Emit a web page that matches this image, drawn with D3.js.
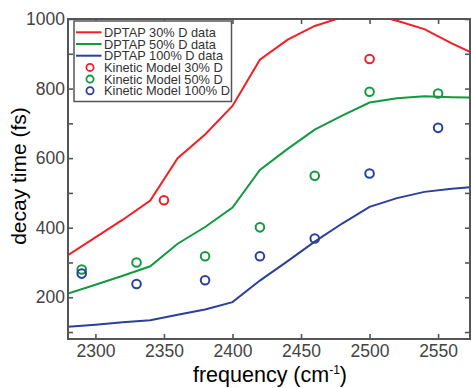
<!DOCTYPE html>
<html><head><meta charset="utf-8">
<script src="https://cdn.jsdelivr.net/npm/d3@7"></script>
<style>body{margin:0;background:#fff}svg{display:block}text{font-family:"Liberation Sans",Arial,sans-serif}</style>
</head><body><svg id="c" width="471" height="388"></svg>
<script>
// data
const lineFreq = [2280,2300,2320,2340,2360,2380,2400,2420,2440,2460,2480,2500,2520,2540,2560,2575];
const red30   = [321,372,423,478,600,668,750,883,940,980,1005,1015,995,971,930,902];
const green50 = [211,236,262,289,354,402,458,566,626,682,722,760,772,778,775,774];
const blue100 = [115,121,128,134,150,165,186,248,303,360,412,460,485,503,512,517];
const modelFreq30 = [2350,2500];
const model30 = [479,885];
const modelFreq50 = [2290,2330,2380,2420,2460,2500,2550];
const model50 = [280,300,318,401,549,791,786];
const modelFreq100 = [2290,2330,2380,2420,2460,2500,2550];
const model100 = [268,238,249,318,369,556,687];
const xTicks = [2300,2350,2400,2450,2500,2550];
const yTicks = [100,200,300,400,500,600,700,800,900,1000];
const yLabels = [200,400,600,800,1000];
const legendLabels = ["DPTAP 30% D data","DPTAP 50% D data","DPTAP 100% D data","Kinetic Model 30% D","Kinetic Model 50% D","Kinetic Model 100% D"];

const RED="#f41e26", GREEN="#119a3f", BLUE="#2b3f9c", AX="#555";
const L=68,R=470,T=19,B=339;
const svg=d3.select("#c");
const x=d3.scaleLinear().domain([2280,2574]).range([L,471]);
const y=d3.scaleLinear().domain([80,1000]).range([B,T]);

svg.append("clipPath").attr("id","clip").append("rect").attr("x",L).attr("y",T).attr("width",R-L).attr("height",B-T);
const g=svg.append("g").attr("clip-path","url(#clip)");
const line=d3.line().x(d=>x(d[0])).y(d=>y(d[1]));
[[red30,RED],[green50,GREEN],[blue100,BLUE]].forEach(([vals,col])=>{
  g.append("path").datum(lineFreq.map((f,i)=>[f,vals[i]])).attr("d",line)
   .attr("fill","none").attr("stroke",col).attr("stroke-width",2);
});
[[modelFreq30,model30,RED],[modelFreq50,model50,GREEN],[modelFreq100,model100,BLUE]].forEach(([fs,vals,col])=>{
  g.selectAll(null).data(fs.map((f,i)=>[f,vals[i]])).enter().append("circle")
   .attr("cx",d=>x(d[0])).attr("cy",d=>y(d[1])).attr("r",4.3)
   .attr("fill","none").attr("stroke",col).attr("stroke-width",2);
});

// axes
const axB=d3.axisBottom(x).tickValues(xTicks).tickSize(-5).tickPadding(6).tickFormat(d3.format("d"));
const axT=d3.axisTop(x).tickValues(xTicks).tickSize(-5).tickFormat("");
const axL=d3.axisLeft(y).tickValues(yTicks).tickSize(-5).tickPadding(3).tickFormat(d=>yLabels.includes(d)?d:"");
const axR=d3.axisRight(y).tickValues(yTicks).tickSize(-5).tickFormat("");
function style(sel){sel.select(".domain").remove();sel.selectAll("line").attr("stroke",AX).attr("stroke-width",1.6);
  sel.selectAll("text").attr("fill","#444").style("font-size","17.5px").style("font-family","Liberation Sans, Arial, sans-serif");}
svg.append("g").attr("transform",`translate(0,${B})`).call(axB).call(style);
svg.append("g").attr("transform",`translate(0,${T})`).call(axT).call(style);
svg.append("g").attr("transform",`translate(${L},0)`).call(axL).call(style);
svg.append("g").attr("transform",`translate(${R},0)`).call(axR).call(style);
svg.append("rect").attr("x",L).attr("y",T).attr("width",R-L).attr("height",B-T)
  .attr("fill","none").attr("stroke",AX).attr("stroke-width",2);

// legend
const lg=svg.append("g");
lg.append("rect").attr("x",74).attr("y",21).attr("width",157.5).attr("height",80.5).attr("fill","#fff").attr("stroke",AX).attr("stroke-width",1.5);
const cols=[RED,GREEN,BLUE,RED,GREEN,BLUE];
legendLabels.forEach((t,i)=>{
  const yy=32.3+i*11.7;
  if(i<3) lg.append("line").attr("x1",76).attr("x2",101.5).attr("y1",yy).attr("y2",yy).attr("stroke",cols[i]).attr("stroke-width",2);
  else lg.append("circle").attr("cx",90).attr("cy",yy).attr("r",3.6).attr("fill","none").attr("stroke",cols[i]).attr("stroke-width",1.8);
  lg.append("text").attr("x",104).attr("y",yy+4.5).attr("fill","#333").style("font-size","12.8px").text(t);
});

// titles
const xt=svg.append("text").attr("x",270).attr("y",382).attr("text-anchor","middle").attr("fill","#000").style("font-size","21.5px");
xt.append("tspan").text("frequency (cm");
xt.append("tspan").attr("dy",-8).style("font-size","12px").text("-1");
xt.append("tspan").attr("dy",8).text(")");
svg.append("text").attr("transform",`translate(26,176) rotate(-90)`).attr("text-anchor","middle")
  .attr("fill","#000").style("font-size","21px").text("decay time (fs)");
</script></body></html>
